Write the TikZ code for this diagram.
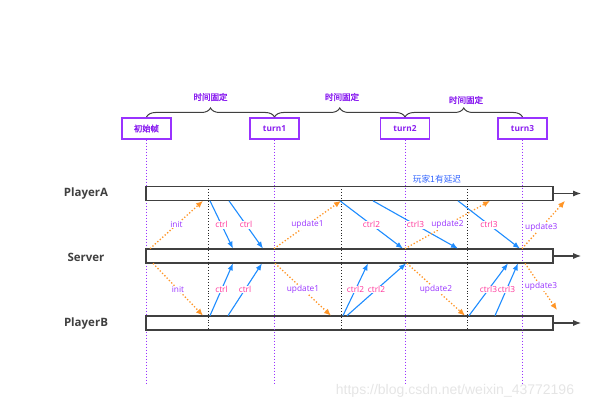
\documentclass[tikz,border=0pt]{standalone}
\usepackage{fontspec}
\setmainfont{Open Sans}
\newfontfamily\cjk{Noto Sans CJK SC}[AutoFakeBold=2]
\newfontfamily\wmfont{Liberation Sans}
\usetikzlibrary{arrows.meta,decorations.pathreplacing,calc}
\definecolor{vio}{HTML}{9933FF}
\definecolor{textvio}{HTML}{8A1EF0}
\definecolor{updvio}{HTML}{9933FF}
\definecolor{ctrlpink}{HTML}{FF3399}
\definecolor{arrblue}{HTML}{1E8CFF}
\definecolor{arrorange}{HTML}{FF9526}
\definecolor{bargray}{HTML}{404040}
\definecolor{delayblue}{HTML}{3366FF}
\begin{document}
\begin{tikzpicture}[x=1pt,y=-1pt,
  lbl/.style={font=\fontsize{8.3}{9}\selectfont, fill=white, inner sep=0.6pt},
  ctrllbl/.style={lbl, text=ctrlpink},
  updlbl/.style={lbl, text=updvio},
  bluearr/.style={draw=arrblue, line width=1.1pt, -{Latex[length=7pt,width=5.5pt]}},
  orgarr/.style={draw=arrorange, line width=1.3pt, dotted, -{Latex[length=7pt,width=6pt]}},
  turnbox/.style={draw=vio, line width=1.1pt, fill=white, minimum width=49pt, minimum height=21pt, inner sep=0pt, text=textvio, font=\bfseries\fontsize{8.3}{9}\selectfont},
  bar/.style={draw=bargray, line width=1.2pt, minimum width=406pt, minimum height=13.5pt, inner sep=0pt, anchor=west},
  player/.style={font=\bfseries\fontsize{11.5}{13}\selectfont, text=bargray},
  vline/.style={draw=vio, line width=1pt, dotted},
  bline/.style={draw=black!85, line width=0.9pt, dotted},
  bracedeco/.style={decorate, decoration={brace, amplitude=9pt}, draw=bargray, line width=1pt},
  bracelbl/.style={text=textvio, font=\cjk\bfseries\fontsize{8.5}{10}\selectfont},
  outarr/.style={draw=bargray, line width=1.2pt, -{Latex[length=8pt,width=6pt]}}
]
\useasboundingbox (0,0) rectangle (600,409);

% turn boxes
\node[turnbox] (f0) at (146.5,128.5) {\cjk\bfseries 初始帧};
\node[turnbox] (t1) at (274.5,128.5) {turn1};
\node[turnbox] (t2) at (405,128.5) {turn2};
\node[turnbox] (t3) at (522.5,128.5) {turn3};

% bars
\node[bar] (A) at (146,193.5) {};
\node[bar] (S) at (146,256) {};
\node[bar] (B) at (146,323) {};

% helper coordinates
\coordinate (bot) at (0,385);
\coordinate (bt) at (0,117);
\foreach \x in {150,153,203,208,210,228,229,233,262,263,274,275,331,340,341,343,347,368,373,403,405,406,407,458,465,467,469,490,495,508,518,520,522,525,565}{
  \coordinate (x\x) at (\x,0);
}
\coordinate (u3e) at (557,310);

% vertical purple lines
\foreach \n in {f0,t1,t2,t3}{
  \draw[vline] (\n.south) -- (\n.south |- bot);
}
% black dotted lines
\foreach \x in {208,341,467}{
  \draw[bline] (x\x |- A.north) -- (x\x |- B.south);
}

% redraw bar outlines on top
\draw[draw=bargray, line width=1.2pt] (A.south west) rectangle (A.north east);
\draw[draw=bargray, line width=1.2pt] (S.south west) rectangle (S.north east);
\draw[draw=bargray, line width=1.2pt] (B.south west) rectangle (B.north east);

% output arrows
\draw[outarr] (A.east) -- ++(28,0);
\draw[outarr] (S.east) -- ++(28,0);
\draw[outarr] (B.east) -- ++(28,0);

% braces
\draw[bracedeco] (f0.north |- bt) -- (t1.north |- bt);
\draw[bracedeco] (t1.north |- bt) -- (t2.north |- bt);
\draw[bracedeco] (t2.north |- bt) -- (t3.north |- bt);
\node[bracelbl] (b1) at (210.5,97) {时间固定};
\node[bracelbl] (b2) at (342,97) {时间固定};
\node[bracelbl] (b3) at (466,100) {时间固定};

% player labels
\node[player] (pa) at (86,194) {PlayerA};
\node[player] (ps) at (86,257) {Server};
\node[player] (pb) at (86,324) {PlayerB};

% delay text
\node[text=delayblue, font=\cjk\fontsize{8.7}{10}\selectfont] (delay) at (437,179) {玩家1有延迟};

% upper arrows (A <-> Server)
\draw[orgarr] (x150 |- S.north) -- node[updlbl]{init} (x203 |- A.south);
\draw[bluearr] (x210 |- A.south) -- node[ctrllbl]{ctrl} (x233 |- S.north);
\draw[bluearr] (x229 |- A.south) -- node[ctrllbl]{ctrl} (x263 |- S.north);
\draw[orgarr] (x274 |- S.north) -- node[updlbl]{update1} (x341 |- A.south);
\draw[bluearr] (x340 |- A.south) -- node[ctrllbl]{ctrl2} (x403 |- S.north);
\draw[bluearr] (x373 |- A.south) -- node[ctrllbl]{ctrl3} (x458 |- S.north);
\draw[orgarr] (x405 |- S.north) -- node[updlbl]{update2} (x490 |- A.south);
\draw[bluearr] (x458 |- A.south) -- node[ctrllbl]{ctrl3} (x520 |- S.north);
\draw[orgarr] (x522 |- S.north) -- node[updlbl, pos=0.45]{update3} (x565 |- A.south);

% lower arrows (Server <-> B)
\draw[orgarr] (x153 |- S.south) -- node[updlbl]{init} (x203 |- B.north);
\draw[bluearr] (x210 |- B.north) -- node[ctrllbl]{ctrl} (x233 |- S.south);
\draw[bluearr] (x228 |- B.north) -- node[ctrllbl]{ctrl} (x262 |- S.south);
\draw[orgarr] (x275 |- S.south) -- node[updlbl]{update1} (x331 |- B.north);
\draw[bluearr] (x343 |- B.north) -- node[ctrllbl]{ctrl2} (x368 |- S.south);
\draw[bluearr] (x347 |- B.north) -- node[ctrllbl]{ctrl2} (x406 |- S.south);
\draw[orgarr] (x407 |- S.south) -- node[updlbl]{update2} (x465 |- B.north);
\draw[bluearr] (x469 |- B.north) -- node[ctrllbl]{ctrl3} (x508 |- S.south);
\draw[bluearr] (x495 |- B.north) -- node[ctrllbl]{ctrl3} (x518 |- S.south);
\draw[orgarr] (x525 |- S.south) -- node[updlbl]{update3} (u3e);

% watermark
\node[text=black!10, font=\wmfont\fontsize{14}{16}\selectfont] (wm) at (455,391) {https://blog.csdn.net/weixin\_43772196};
\end{tikzpicture}
\end{document}
